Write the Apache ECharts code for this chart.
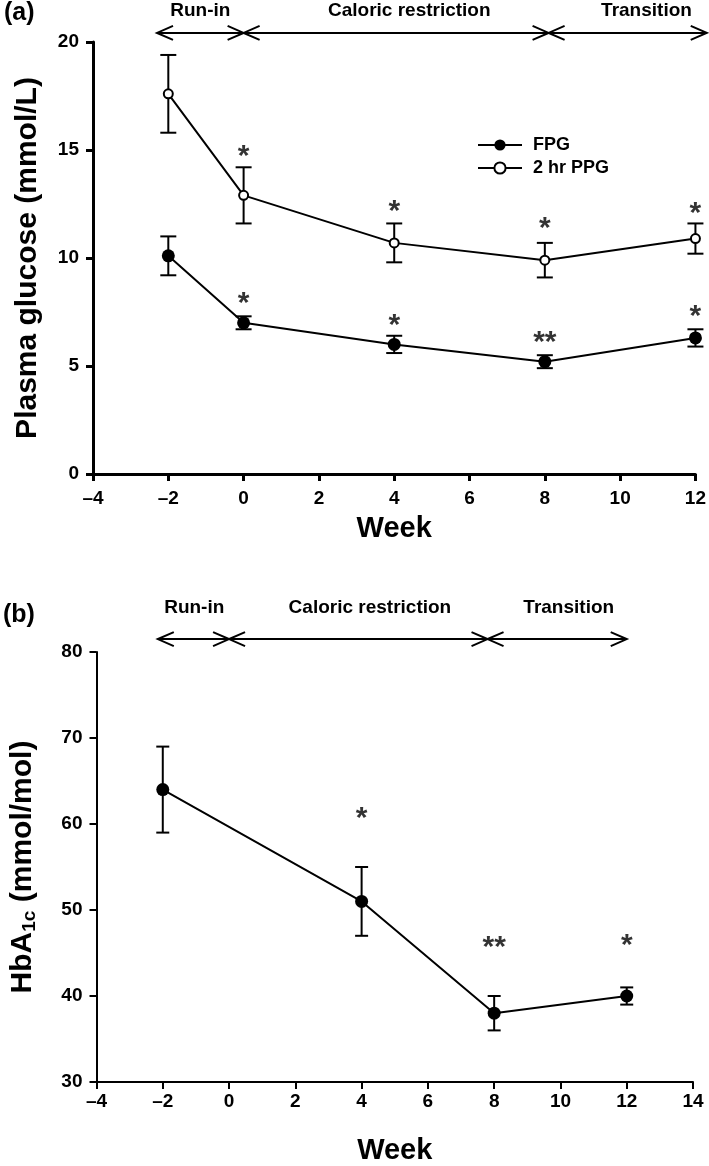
<!DOCTYPE html>
<html>
<head>
<meta charset="utf-8">
<script src="https://cdn.jsdelivr.net/npm/echarts@6/dist/echarts.min.js"></script>
<style>
html,body{margin:0;padding:0;background:#fff;}
#chart{width:709px;height:1166px;}
</style>
</head>
<body>
<div id="chart"></div>
<script>
// ---------- Panel (a) data ----------
const topWeeks = [-2, 0, 4, 8, 12];
const fpgMean = [10.1, 7.0, 6.0, 5.2, 6.3];
const fpgLow  = [9.2, 6.7, 5.6, 4.9, 5.9];
const fpgHigh = [11.0, 7.3, 6.4, 5.5, 6.7];
const ppgMean = [17.6, 12.9, 10.7, 9.9, 10.9];
const ppgLow  = [15.8, 11.6, 9.8, 9.1, 10.2];
const ppgHigh = [19.4, 14.2, 11.6, 10.7, 11.6];
const starWeeksA = [0, 4, 8, 12];
const fpgStarText = ['*', '*', '**', '*'];
const fpgStarY = [8.2, 7.2, 6.4, 7.6];
const ppgStarText = ['*', '*', '*', '*'];
const ppgStarY = [15.0, 12.45, 11.67, 12.36];
const yTicksA = [0, 5, 10, 15, 20];
const xTicksA = [-4, -2, 0, 2, 4, 6, 8, 10, 12];

// ---------- Panel (b) data ----------
const hbaWeeks = [-2, 4, 8, 12];
const hbaMean = [64, 51, 38, 40];
const hbaLow  = [59, 47, 36, 39];
const hbaHigh = [69, 55, 40, 41];
const starWeeksB = [4, 8, 12];
const hbaStarText = ['*', '**', '*'];
const hbaStarY = [61.4, 46.4, 46.7];
const yTicksB = [30, 40, 50, 60, 70, 80];
const xTicksB = [-4, -2, 0, 2, 4, 6, 8, 10, 12, 14];

// ---------- Phase annotations ----------
const phaseNames = ['Run-in', 'Caloric restriction', 'Transition'];
const phaseStartA = [-2.3, 0, 8.1];
const phaseEndA = [0, 8.1, 12.3];
const phaseLabelXA = [-1.15, 4.4, 10.7];
const phaseArrowYA = 20.42;
const phaseTextYA = 21.45;
const phaseStartB = [-2.15, 0, 7.8];
const phaseEndB = [0, 7.8, 12];
const phaseLabelXB = [-1.05, 4.25, 10.25];
const phaseArrowYB = 81.5;
const phaseTextYB = 85.2;

const FONT = '"Liberation Sans", Arial, Helvetica, sans-serif';
const dash = v => String(v).replace('-', '\u2013');

function errData(xs, lo, hi) { return xs.map((x, i) => [x, lo[i], hi[i]]); }
function errRender(capHalf, lw) {
  return function (params, api) {
    const x = api.value(0), lo = api.value(1), hi = api.value(2);
    const pLo = api.coord([x, lo]), pHi = api.coord([x, hi]);
    const st = { stroke: '#000', lineWidth: lw };
    return { type: 'group', children: [
      { type: 'line', shape: { x1: pLo[0], y1: pLo[1], x2: pHi[0], y2: pHi[1] }, style: st },
      { type: 'line', shape: { x1: pLo[0] - capHalf, y1: pLo[1], x2: pLo[0] + capHalf, y2: pLo[1] }, style: st },
      { type: 'line', shape: { x1: pHi[0] - capHalf, y1: pHi[1], x2: pHi[0] + capHalf, y2: pHi[1] }, style: st }
    ]};
  };
}
function phaseData(st, en, lx, ay, ty) { return st.map((s, i) => [s, en[i], lx[i], ay, ty]); }
function phaseRender(params, api) {
  const i = params.dataIndex;
  const s = api.value(0), e = api.value(1), lx = api.value(2), ay = api.value(3), ty = api.value(4);
  const p1 = api.coord([s, ay]), p2 = api.coord([e, ay]), pt = api.coord([lx, ty]);
  const L = 16, H = 7;
  const st = { stroke: '#000', lineWidth: 2, fill: null };
  return { type: 'group', children: [
    { type: 'line', shape: { x1: p1[0], y1: p1[1], x2: p2[0], y2: p2[1] }, style: st },
    { type: 'polyline', shape: { points: [[p1[0] + L, p1[1] - H], [p1[0], p1[1]], [p1[0] + L, p1[1] + H]] }, style: st },
    { type: 'polyline', shape: { points: [[p2[0] - L, p2[1] - H], [p2[0], p2[1]], [p2[0] - L, p2[1] + H]] }, style: st },
    { type: 'text', x: pt[0], y: pt[1], style: { text: phaseNames[i], align: 'center', verticalAlign: 'middle', font: 'bold 19px ' + FONT, fill: '#000' } }
  ]};
}
function starSeries(xIdx, yIdx, xs, ys, texts) {
  return {
    type: 'scatter', xAxisIndex: xIdx, yAxisIndex: yIdx, symbolSize: 0, silent: true, z: 5,
    data: xs.map((x, i) => ({ value: [x, ys[i]], label: { formatter: texts[i] } })),
    label: { show: true, position: 'inside', color: '#000', fontSize: 30, fontWeight: 'bold', fontFamily: FONT, offset: [0, 7] }
  };
}
function yAxisBase(min, max, interval, lw, gap, name, nameFont) {
  return {
    type: 'value', min: min, max: max, interval: interval, name: name,
    nameLocation: 'middle', nameGap: gap, nameTextStyle: nameFont,
    axisLine: { show: true, onZero: false, lineStyle: { color: '#000', width: lw } },
    axisTick: { show: true, length: 7, lineStyle: { color: '#000', width: lw } },
    axisLabel: { color: '#000', fontSize: 19, fontWeight: 'bold', fontFamily: FONT, margin: 14 },
    splitLine: { show: false }
  };
}
function xAxisBase(min, max, interval, lw, margin, gap) {
  return {
    type: 'value', min: min, max: max, interval: interval, name: 'Week',
    nameLocation: 'middle', nameGap: gap,
    nameTextStyle: { color: '#000', fontSize: 29, fontWeight: 'bold', fontFamily: FONT },
    axisLine: { show: true, onZero: false, lineStyle: { color: '#000', width: lw } },
    axisTick: { show: true, length: 7, lineStyle: { color: '#000', width: lw } },
    axisLabel: { color: '#000', fontSize: 19, fontWeight: 'bold', fontFamily: FONT, margin: margin, formatter: dash },
    splitLine: { show: false }
  };
}

const chart = echarts.init(document.getElementById('chart'), null, { renderer: 'canvas' });
chart.setOption({
  animation: false,
  backgroundColor: '#fff',
  graphic: [
    { type: 'text', left: 4, top: 1, style: { text: '(a)', font: 'bold 25px ' + FONT, fill: '#000' } },
    { type: 'text', left: 3, top: 603, style: { text: '(b)', font: 'bold 25px ' + FONT, fill: '#000' } }
  ],
  grid: [
    { left: 93, right: 12, top: 42, height: 432 },
    { left: 93, right: 16, top: 652, height: 431 }
  ],
  legend: {
    left: 472, top: 131, orient: 'vertical', itemGap: 5, itemWidth: 44, itemHeight: 14,
    data: ['FPG', '2 hr PPG'],
    textStyle: { color: '#000', fontSize: 18, fontWeight: 'bold', fontFamily: FONT, padding: [0, 0, 0, 6] }
  },
  xAxis: [
    xAxisBase(-4, 12, 2, 3, 15, 40),
    Object.assign(xAxisBase(-4, 14, 2, 2, 10, 54), { gridIndex: 1 })
  ],
  yAxis: [
    yAxisBase(0, 20, 5, 3, 50, 'Plasma glucose (mmol/L)', { color: '#000', fontSize: 30, fontWeight: 'bold', fontFamily: FONT }),
    Object.assign(yAxisBase(30, 80, 10, 2, 57, '{a|HbA}{s|1c}{a| (mmol/mol)}', {
      color: '#000', fontFamily: FONT,
      rich: {
        a: { fontSize: 30, fontWeight: 'bold', fontFamily: FONT, color: '#000' },
        s: { fontSize: 19, fontWeight: 'bold', fontFamily: FONT, color: '#000', verticalAlign: 'bottom', padding: [14, 0, 0, 0] }
      }
    }), { gridIndex: 1 })
  ],
  series: [
    // phases
    { type: 'custom', xAxisIndex: 0, yAxisIndex: 0, clip: false, silent: true, renderItem: phaseRender,
      data: phaseData(phaseStartA, phaseEndA, phaseLabelXA, phaseArrowYA, phaseTextYA) },
    { type: 'custom', xAxisIndex: 1, yAxisIndex: 1, clip: false, silent: true, renderItem: phaseRender,
      data: phaseData(phaseStartB, phaseEndB, phaseLabelXB, phaseArrowYB, phaseTextYB) },
    // error bars
    { type: 'custom', xAxisIndex: 0, yAxisIndex: 0, clip: false, silent: true, z: 1, renderItem: errRender(8, 2),
      encode: { x: 0, y: [1, 2] }, data: errData(topWeeks, fpgLow, fpgHigh) },
    { type: 'custom', xAxisIndex: 0, yAxisIndex: 0, clip: false, silent: true, z: 1, renderItem: errRender(8, 2),
      encode: { x: 0, y: [1, 2] }, data: errData(topWeeks, ppgLow, ppgHigh) },
    { type: 'custom', xAxisIndex: 1, yAxisIndex: 1, clip: false, silent: true, z: 1, renderItem: errRender(6.5, 2),
      encode: { x: 0, y: [1, 2] }, data: errData(hbaWeeks, hbaLow, hbaHigh) },
    // lines
    { name: 'FPG', type: 'line', xAxisIndex: 0, yAxisIndex: 0, z: 3,
      data: topWeeks.map((w, i) => [w, fpgMean[i]]),
      symbol: 'circle', symbolSize: 13,
      lineStyle: { color: '#000', width: 2 }, itemStyle: { color: '#000' } },
    { name: '2 hr PPG', type: 'line', xAxisIndex: 0, yAxisIndex: 0, z: 3,
      data: topWeeks.map((w, i) => [w, ppgMean[i]]),
      symbol: 'circle', symbolSize: 9,
      lineStyle: { color: '#000', width: 2 }, itemStyle: { color: '#fff', borderColor: '#000', borderWidth: 2 } },
    { name: 'HbA1c', type: 'line', xAxisIndex: 1, yAxisIndex: 1, z: 3,
      data: hbaWeeks.map((w, i) => [w, hbaMean[i]]),
      symbol: 'circle', symbolSize: 13,
      lineStyle: { color: '#000', width: 2 }, itemStyle: { color: '#000' } },
    // stars
    starSeries(0, 0, starWeeksA, fpgStarY, fpgStarText),
    starSeries(0, 0, starWeeksA, ppgStarY, ppgStarText),
    starSeries(1, 1, starWeeksB, hbaStarY, hbaStarText)
  ]
});
</script>
</body>
</html>
